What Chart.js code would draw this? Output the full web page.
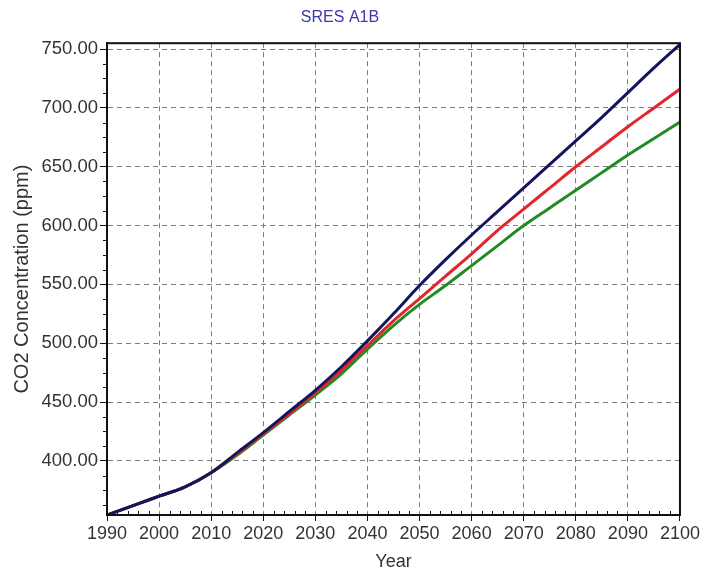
<!DOCTYPE html>
<html>
<head>
<meta charset="utf-8">
<script src="https://cdn.jsdelivr.net/npm/chart.js@4/dist/chart.umd.min.js"></script>
<style>
  html, body { margin: 0; padding: 0; background: #fff; }
  #wrap { width: 702px; height: 573px; position: relative; }
</style>
</head>
<body>
<div id="wrap"><canvas id="c"></canvas></div>
<script>
// CO2 concentration projections (ppm) under the SRES A1B scenario
const years = [1990, 1995, 2000, 2005, 2010, 2015, 2020, 2025, 2030, 2035, 2040, 2045,
               2050, 2055, 2060, 2065, 2070, 2075, 2080, 2085, 2090, 2095, 2100];
const seriesBlue  = [354, 362, 370, 378, 390, 407, 424, 442, 460, 480, 502, 525,
                     549, 571, 592, 612, 632, 652, 672, 692, 713, 734, 754];
const seriesRed   = [354, 362, 370, 378, 390, 406, 423, 440, 458, 477, 498, 519,
                     538, 557, 576, 596, 614, 632, 650, 667, 684, 700, 716];
const seriesGreen = [354, 362, 370, 378, 390, 405, 422, 439, 456, 474, 495, 515,
                     533, 549, 566, 583, 600, 615, 630, 645, 660, 674, 688];
const yearTicks = [1990, 2000, 2010, 2020, 2030, 2040, 2050, 2060, 2070, 2080, 2090, 2100];
const ppmTicks = [400, 450, 500, 550, 600, 650, 700, 750];

const FONT = "'Liberation Sans', Arial, sans-serif";
const TEXT = '#333333';

const toPoints = vals => years.map((y, i) => ({ x: y, y: vals[i] }));

// Plot frame plus the small minor tick marks on both axes
const frameAndMinorTicks = {
  id: 'frameAndMinorTicks',
  afterDraw(chart) {
    const { ctx, chartArea: a, scales } = chart;
    ctx.save();
    ctx.strokeStyle = '#111';
    ctx.lineWidth = 1;
    ctx.setLineDash([]);
    ctx.beginPath();
    for (let yr = 1990; yr <= 2100; yr += 2) {
      if (yr % 10 === 0) continue;
      const px = Math.round(scales.x.getPixelForValue(yr)) + 0.5;
      ctx.moveTo(px, a.bottom);
      ctx.lineTo(px, a.bottom - 4);
    }
    for (let v = 362.5; v <= 755; v += 12.5) {
      if (v % 50 === 0) continue;
      const py = Math.round(scales.y.getPixelForValue(v)) + 0.5;
      ctx.moveTo(a.left, py);
      ctx.lineTo(a.left - 4, py);
    }
    ctx.stroke();
    ctx.lineWidth = 2;
    ctx.strokeRect(a.left, a.top, a.right - a.left, a.bottom - a.top);
    ctx.restore();
  }
};

const gridOpts = tickLen => ({
  color: '#7c7c7c',
  lineWidth: 1,
  tickLength: tickLen,
  tickColor: '#111',
  tickBorderDash: [],
  drawOnChartArea: true
});

new Chart(document.getElementById('c'), {
  type: 'line',
  data: {
    datasets: [
      { data: toPoints(seriesBlue),  borderColor: '#15155f', borderWidth: 3 },
      { data: toPoints(seriesRed),   borderColor: '#e3262c', borderWidth: 3 },
      { data: toPoints(seriesGreen), borderColor: '#238b23', borderWidth: 3 }
    ]
  },
  options: {
    responsive: true,
    maintainAspectRatio: false,
    animation: false,
    layout: { padding: { left: 0, right: 22, top: 0, bottom: 0 } },
    elements: {
      point: { radius: 0 },
      line: { cubicInterpolationMode: 'monotone', fill: false }
    },
    plugins: {
      legend: { display: false },
      tooltip: { enabled: false },
      title: {
        display: true,
        text: 'SRES A1B',
        color: '#3a3aa8',
        font: { family: FONT, size: 16, weight: 'normal' },
        padding: { top: 8, bottom: 16 }
      }
    },
    scales: {
      x: {
        type: 'linear',
        min: 1990,
        max: 2100,
        afterBuildTicks: s => { s.ticks = yearTicks.map(v => ({ value: v })); },
        afterFit: s => { s.height = 58; },
        ticks: {
          color: TEXT,
          font: { family: FONT, size: 18 },
          padding: 2,
          maxRotation: 0,
          autoSkip: false,
          callback: v => String(v)
        },
        grid: gridOpts(6),
        border: { display: true, color: '#111', width: 2, dash: [5, 4] },
        title: {
          display: true,
          text: 'Year',
          color: TEXT,
          font: { family: FONT, size: 18 },
          padding: { top: 0, bottom: 0 }
        }
      },
      y: {
        type: 'linear',
        min: 354,
        max: 755,
        afterBuildTicks: s => { s.ticks = ppmTicks.map(v => ({ value: v })); },
        afterFit: s => { s.width = 107; },
        ticks: {
          color: TEXT,
          font: { family: FONT, size: 18.5 },
          padding: 2,
          callback: v => Number(v).toFixed(2)
        },
        grid: gridOpts(7),
        border: { display: true, color: '#111', width: 2, dash: [5, 4] },
        title: {
          display: true,
          text: 'CO2 Concentration (ppm)',
          color: TEXT,
          font: { family: FONT, size: 20 },
          padding: { top: 10, bottom: 0 }
        }
      }
    }
  },
  plugins: [frameAndMinorTicks]
});
</script>
</body>
</html>
